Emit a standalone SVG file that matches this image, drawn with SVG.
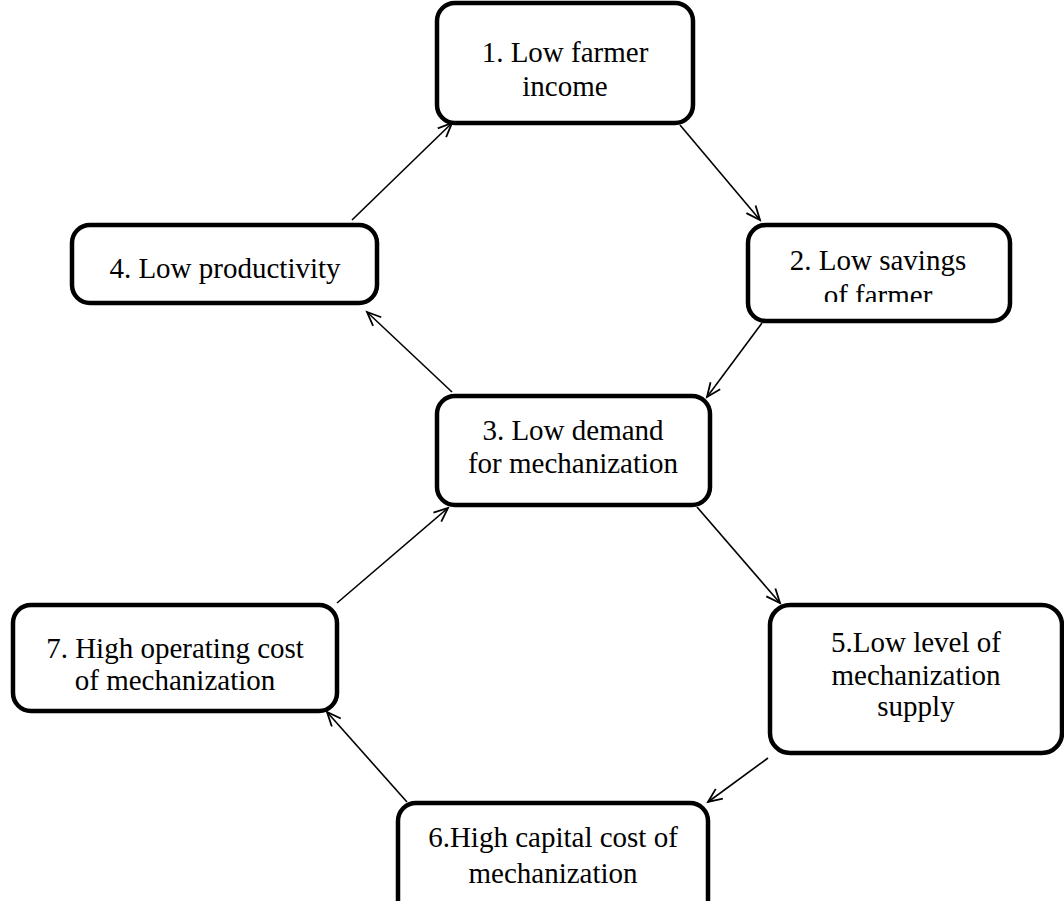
<svg xmlns="http://www.w3.org/2000/svg" width="1064" height="901" viewBox="0 0 1064 901">
<style>
.box{fill:#fff;stroke:#000;stroke-width:4.5}
.t{font-family:"Liberation Serif","Times New Roman",serif;font-size:29px;fill:#000;text-anchor:middle}
.c{stroke:#000;stroke-width:1.6;fill:none;marker-end:url(#ah)}
</style>
<defs>
<marker id="ah" markerWidth="18" markerHeight="16" refX="15" refY="7" orient="auto" markerUnits="userSpaceOnUse">
<path d="M1,1 L15,7 L1,13" fill="none" stroke="#000" stroke-width="1.8"/>
</marker>
<clipPath id="clip2"><rect x="748" y="225" width="262" height="77"/></clipPath>
</defs>
<rect width="1064" height="901" fill="#fff"/>
<g id="connectors">
<line class="c" x1="352" y1="220" x2="452" y2="123"/>
<line class="c" x1="680" y1="125" x2="760" y2="220"/>
<line class="c" x1="762" y1="323" x2="707" y2="397"/>
<line class="c" x1="452" y1="392" x2="367" y2="312"/>
<line class="c" x1="697" y1="507" x2="780" y2="603"/>
<line class="c" x1="768" y1="758" x2="708" y2="802"/>
<line class="c" x1="407" y1="802" x2="327" y2="712"/>
<line class="c" x1="337" y1="603" x2="448" y2="508"/>
</g>
<g id="node1">
<rect class="box" x="437" y="3" width="256" height="120" rx="18"/>
<text class="t" x="565" y="62">1. Low farmer</text>
<text class="t" x="565" y="96">income</text>
</g>
<g id="node2">
<rect class="box" x="748" y="225" width="262" height="96" rx="18"/>
<g clip-path="url(#clip2)">
<text class="t" x="878" y="270">2. Low savings</text>
<text class="t" x="878" y="305">of farmer</text>
</g>
</g>
<g id="node3">
<rect class="box" x="437" y="396" width="273" height="109" rx="18"/>
<text class="t" x="573" y="440">3. Low demand</text>
<text class="t" x="573" y="473">for mechanization</text>
</g>
<g id="node4">
<rect class="box" x="72" y="225" width="305" height="78" rx="18"/>
<text class="t" x="225" y="278">4. Low productivity</text>
</g>
<g id="node5">
<rect class="box" x="770" y="605" width="292" height="148" rx="20"/>
<text class="t" x="916" y="652">5.Low level of</text>
<text class="t" x="916" y="685">mechanization</text>
<text class="t" x="916" y="716">supply</text>
</g>
<g id="node6">
<rect class="box" x="398" y="803" width="310" height="120" rx="18"/>
<text class="t" x="553" y="847">6.High capital cost of</text>
<text class="t" x="553" y="883">mechanization</text>
</g>
<g id="node7">
<rect class="box" x="13" y="605" width="324" height="106" rx="18"/>
<text class="t" x="175" y="658">7. High operating cost</text>
<text class="t" x="175" y="690">of mechanization</text>
</g>
</svg>
